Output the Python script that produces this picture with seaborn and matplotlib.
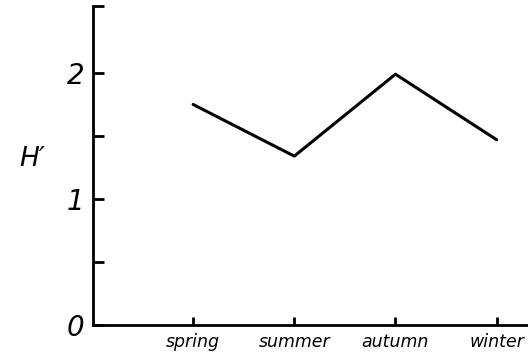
import matplotlib
matplotlib.use("Agg")
import matplotlib.pyplot as plt
import seaborn as sns
import pandas as pd

seasons = ["spring", "summer", "autumn", "winter"]
h_values = [1.75, 1.34, 1.99, 1.47]
y_ticks = [0, 0.5, 1, 1.5, 2, 2.53]
y_tick_labels = ["0", "", "1", "", "2", ""]

sns.set_theme(style="white")
plt.rcParams['font.family'] = ['DejaVu Sans']
plt.rcParams['text.color'] = 'black'
plt.rcParams['axes.labelcolor'] = 'black'
plt.rcParams['xtick.color'] = 'black'
plt.rcParams['ytick.color'] = 'black'

df = pd.DataFrame({"season": seasons, "H": h_values})

fig = plt.figure(figsize=(5.28, 3.6), dpi=100)
ax = fig.add_axes([0.176, 0.097, 0.824, 0.886])
sns.lineplot(data=df, x="season", y="H", sort=False, color="black", linewidth=2.2, ax=ax)

ax.set_xlim(-0.99, 3.31)
ax.set_ylim(0, 2.53)
ax.set_yticks(y_ticks)
ax.set_yticklabels(y_tick_labels, fontsize=20, fontstyle="italic", color="black")
ax.set_xticks(range(len(seasons)))
ax.set_xticklabels(seasons, fontsize=12.5, fontstyle="italic", color="black")
ax.tick_params(axis="y", direction="in", length=8, width=2, pad=6, color="black", left=True)
ax.tick_params(axis="x", direction="in", length=6, width=2, pad=6, color="black", bottom=True)
ax.set_xlabel("")
ax.set_ylabel("H′", fontsize=19, fontstyle="italic", rotation=0, va="center", color="black")
ax.yaxis.set_label_coords(-0.14, 0.52)
for s in ["top", "right"]:
    ax.spines[s].set_visible(False)
for s in ["left", "bottom"]:
    ax.spines[s].set_linewidth(2)
    ax.spines[s].set_color("black")

fig.savefig("out.png", dpi=100)
